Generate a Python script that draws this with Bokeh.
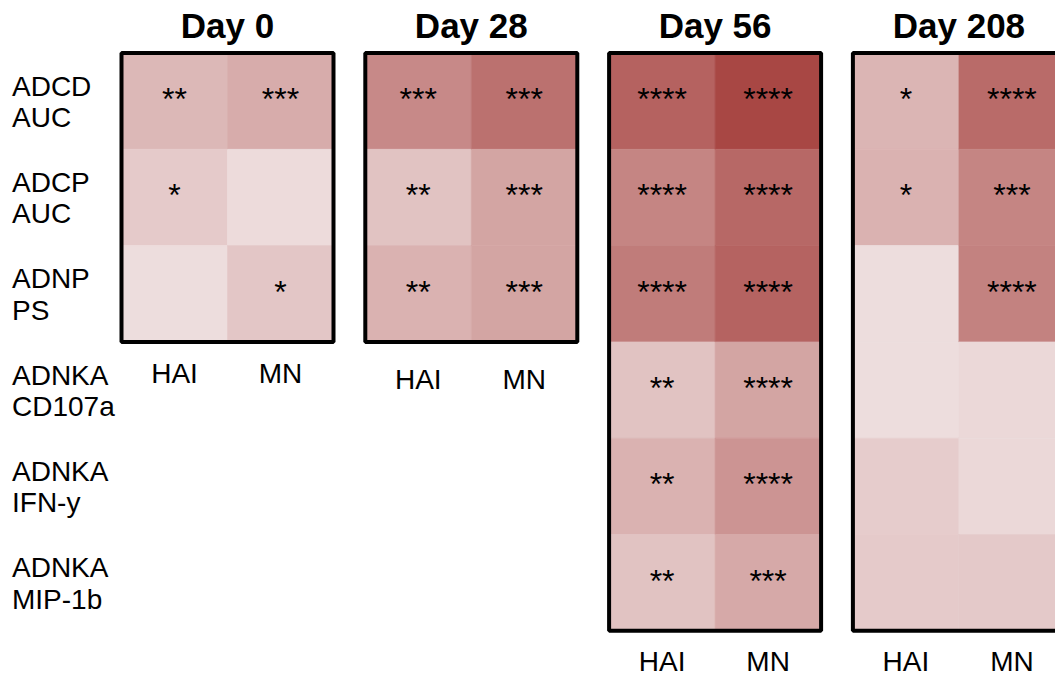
import numpy as np
from bokeh.plotting import figure
from bokeh.models import Range1d, ColumnDataSource
from bokeh.transform import linear_cmap
from bokeh.core.properties import value
from bokeh.embed import file_html
from bokeh.resources import INLINE

# ---------------- data ----------------
days = ["Day 0", "Day 28", "Day 56", "Day 208"]
assays = ["HAI", "MN"]
feature_line1 = ["ADCD", "ADCP", "ADNP", "ADNKA", "ADNKA", "ADNKA"]
feature_line2 = ["AUC", "AUC", "PS", "CD107a", "IFN-y", "MIP-1b"]
rows_per_day = [3, 3, 6, 6]

# colour intensity (0 = palest, 1 = darkest)
d0_hai = [0.25, 0.13, 0.01]
d0_mn = [0.33, 0.02, 0.16]
d28_hai = [0.56, 0.18, 0.29]
d28_mn = [0.72, 0.38, 0.38]
d56_hai = [0.82, 0.59, 0.65, 0.18, 0.29, 0.18]
d56_mn = [1.00, 0.78, 0.81, 0.38, 0.49, 0.35]
d208_hai = [0.27, 0.29, 0.01, 0.01, 0.12, 0.13]
d208_mn = [0.76, 0.59, 0.61, 0.04, 0.04, 0.14]

# significance stars
d0_hai_sig = ["**", "*", ""]
d0_mn_sig = ["***", "", "*"]
d28_hai_sig = ["***", "**", "**"]
d28_mn_sig = ["***", "***", "***"]
d56_hai_sig = ["****", "****", "****", "**", "**", "**"]
d56_mn_sig = ["****", "****", "****", "****", "****", "***"]
d208_hai_sig = ["*", "*", "", "", "", ""]
d208_mn_sig = ["****", "***", "****", "", "", ""]

values = [(d0_hai, d0_mn), (d28_hai, d28_mn), (d56_hai, d56_mn), (d208_hai, d208_mn)]
stars = [(d0_hai_sig, d0_mn_sig), (d28_hai_sig, d28_mn_sig),
         (d56_hai_sig, d56_mn_sig), (d208_hai_sig, d208_mn_sig)]

# ---------------- layout constants ----------------
W, H = 1055, 681
CELL_W = 106.0      # px per column unit
CELL_H = 96.3       # px per row unit
ORIGIN_X = 121.0    # px of first panel's left edge in the frame
ORIGIN_Y = 52.5     # px of panels' top edge in the frame
STRIDE = 2.3        # panel stride in column units
label_gap = [32.0, 38.0, 31.0, 31.0]  # px offset below panel bottom for labels

FONT = value("Liberation Sans")

# palette: pale pink -> brick red
light = np.array([238, 222, 222])
dark = np.array([168, 71, 68])
palette = []
for t in np.linspace(0, 1, 256):
    c = np.round(light + (dark - light) * t).astype(int)
    palette.append("#%02x%02x%02x" % tuple(c))

# ---------------- build sources ----------------
cx, cy, cv, cs = [], [], [], []
for d in range(len(days)):
    for c in range(len(assays)):
        for r in range(rows_per_day[d]):
            cx.append(d * STRIDE + c + 0.5)
            cy.append(r + 0.5)
            cv.append(values[d][c][r])
            cs.append(stars[d][c][r])
cells = ColumnDataSource(dict(x=cx, y=cy, v=cv, s=cs))

bx = [d * STRIDE + 1.0 for d in range(len(days))]
by = [n / 2.0 for n in rows_per_day]
bh = list(rows_per_day)
boxes = ColumnDataSource(dict(x=bx, y=by, h=bh))

titles = ColumnDataSource(dict(x=bx, y=[0.0] * len(days), t=days))

lx, ly, lt, lo = [], [], [], []
for d in range(len(days)):
    for c, a in enumerate(assays):
        lx.append(d * STRIDE + c + 0.5)
        ly.append(float(rows_per_day[d]))
        lt.append(a)
        lo.append(label_gap[d])
xlabels = ColumnDataSource(dict(x=lx, y=ly, t=lt, o=lo))

x0 = -ORIGIN_X / CELL_W
x1 = (W - ORIGIN_X) / CELL_W
y_bottom = (H - ORIGIN_Y) / CELL_H
y_top = -ORIGIN_Y / CELL_H

rl = ColumnDataSource(dict(
    x=[x0] * len(feature_line1),
    y=[r + 0.5 for r in range(len(feature_line1))],
    t1=feature_line1, t2=feature_line2))

# ---------------- figure ----------------
p = figure(width=W, height=H, x_range=Range1d(x0, x1), y_range=Range1d(y_bottom, y_top),
           output_backend="svg", toolbar_location=None, min_border=0,
           x_axis_location=None, y_axis_location=None)
p.grid.visible = False
p.outline_line_color = None
p.background_fill_color = "white"

cmap = linear_cmap("v", palette, 0, 1)
p.rect(x="x", y="y", width=1, height=1, source=cells,
       fill_color=cmap, line_color=cmap, line_width=0.6)

p.text(x="x", y="y", text="s", source=cells, text_font=FONT, text_font_size="32px",
       text_align="center", text_baseline="alphabetic", y_offset=-2, text_color="black")

p.rect(x="x", y="y", width=2, height="h", source=boxes, fill_color=None,
       line_color="black", line_width=4)

p.text(x="x", y="y", text="t", source=titles, text_font=FONT, text_font_size="35px",
       text_font_style="bold", text_align="center", text_baseline="alphabetic",
       y_offset=-28, text_color="black")

p.text(x="x", y="y", text="t", source=xlabels, text_font=FONT, text_font_size="28px",
       text_align="center", text_baseline="alphabetic", y_offset="o", text_color="black")

p.text(x="x", y="y", text="t1", source=rl, text_font=FONT, text_font_size="28px",
       text_align="left", text_baseline="alphabetic", x_offset=11.5, y_offset=-15,
       text_color="black")
p.text(x="x", y="y", text="t2", source=rl, text_font=FONT, text_font_size="28px",
       text_align="left", text_baseline="alphabetic", x_offset=11.5, y_offset=16.5,
       text_color="black")

open("out.html", "w").write(file_html(p, INLINE))
